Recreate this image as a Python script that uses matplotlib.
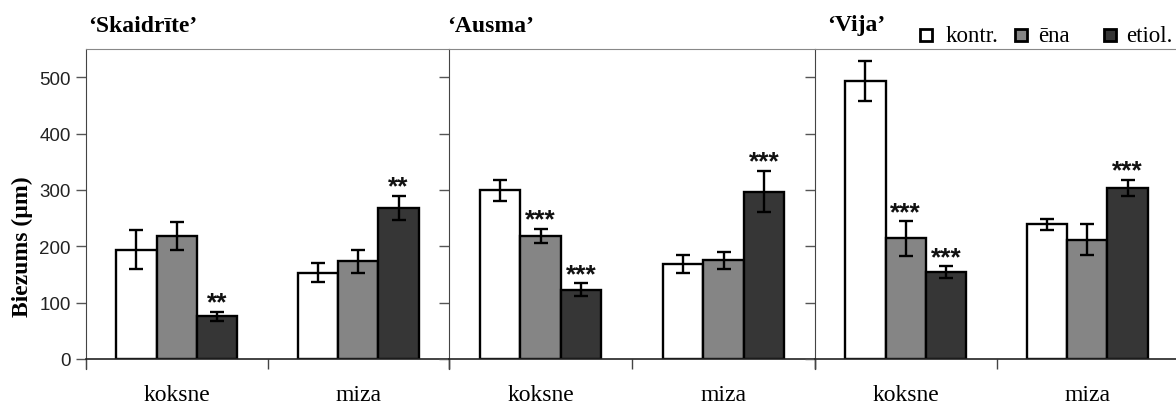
import matplotlib
matplotlib.use("Agg")
import matplotlib.pyplot as plt
from matplotlib.patches import Rectangle
import numpy as np

# stem anatomy: thickness of wood (koksne) and bark (miza), um
cultivars = ["\u2018Skaidr\u012bte\u2019", "\u2018Ausma\u2019", "\u2018Vija\u2019"]
tissues = ["koksne", "miza"]
treatments = ["kontr.", "\u0113na", "etiol."]

# mean[cultivar][treatment] -> [koksne, miza]
kontr_mean = [[194, 153], [299, 168], [493, 239]]
ena_mean = [[218, 173], [218, 175], [214, 212]]
etiol_mean = [[76, 268], [123, 297], [154, 304]]

kontr_err = [[35, 17], [18, 16], [35, 10]]
ena_err = [[25, 20], [13, 15], [31, 28]]
etiol_err = [[8, 22], [11, 37], [11, 14]]

# significance marks vs control
ena_sig = [["", ""], ["***", ""], ["***", ""]]
etiol_sig = [["**", "**"], ["***", "***"], ["***", "***"]]
kontr_sig = [["", ""], ["", ""], ["", ""]]

colors = ["#ffffff", "#858585", "#363636"]
serif = ["Liberation Serif", "DejaVu Serif"]
sans = ["Liberation Sans", "DejaVu Sans"]

W, H = 1176, 406
fig = plt.figure(figsize=(W / 100, H / 100), dpi=100)

# panel edges in pixels
edges = [(86, 449), (449, 815), (815, 1178)]
y0_px, ytop_px = 360, 50

means = [kontr_mean, ena_mean, etiol_mean]
errs = [kontr_err, ena_err, etiol_err]
sigs = [kontr_sig, ena_sig, etiol_sig]

bw = 0.222
x = np.arange(len(tissues)) + 0.5

for i, (xl, xr) in enumerate(edges):
    ax = fig.add_axes([xl / W, (H - y0_px) / H, (xr - xl) / W, (y0_px - ytop_px) / H])
    for j in range(3):
        pos = x + (j - 1) * bw
        ax.bar(pos, means[j][i], bw, yerr=errs[j][i], color=colors[j],
               edgecolor="black", linewidth=1.7, zorder=2,
               error_kw=dict(ecolor="black", elinewidth=1.7, capsize=4.8, capthick=1.7))
        for k in range(len(tissues)):
            s = sigs[j][i][k]
            if s:
                ax.annotate(s, (pos[k], means[j][i][k] + errs[j][i][k]),
                            xytext=(0, 6.5), textcoords="offset points",
                            ha="center", va="center", fontsize=19,
                            fontweight="bold", family=sans, color="#111111")
    ax.set_xlim(0, 2)
    ax.set_ylim(0, 550)
    ax.set_yticks(np.arange(0, 501, 100))
    ax.set_xticks([0, 1, 2])
    ax.set_xticklabels([])
    ax.set_xticks(x, minor=True)
    ax.set_xticklabels(tissues, minor=True, family=serif, fontsize=17)
    ax.tick_params(axis="x", which="minor", length=0, pad=18)
    ax.tick_params(axis="x", which="major", length=7, width=1, color="#444444")
    ax.tick_params(axis="y", length=7, width=1, color="#555555",
                   labelsize=13.5, labelcolor="#222222", pad=4)
    for lab in ax.get_yticklabels():
        lab.set_family(sans)
    if i > 0:
        ax.set_yticklabels([])
    else:
        ax.set_ylabel("Biezums (\u00b5m)", family=serif, fontsize=17,
                      fontweight="bold")
        ax.yaxis.set_label_coords(-0.145, 0.365)
    ax.spines["right"].set_visible(False)
    ax.spines["top"].set_color("#888888")
    ax.spines["left"].set_color("#444444")
    ax.spines["bottom"].set_color("#222222")
    ax.spines["left"].set_bounds(-18, 550)
    ax.spines["bottom"].set_linewidth(1.2)

title_x = [88, 447, 827]
for t, tx in zip(cultivars, title_x):
    fig.text(tx / W, 1 - 26 / H, t, ha="left", va="center", family=serif,
             fontsize=17, fontweight="bold")

# key: open/grey/black squares with labels
key_sq = [920, 1015, 1104]
key_tx = [946, 1038, 1126]
for c, lab, sx, tx in zip(colors, treatments, key_sq, key_tx):
    fig.patches.append(Rectangle((sx / W, 1 - 42 / H), 12 / W, 12 / H,
                                 transform=fig.transFigure, facecolor=c,
                                 edgecolor="black", linewidth=2))
    fig.text(tx / W, 1 - 37 / H, lab, ha="left", va="center", family=serif,
             fontsize=16.5)

fig.savefig("out.png", dpi=100)
